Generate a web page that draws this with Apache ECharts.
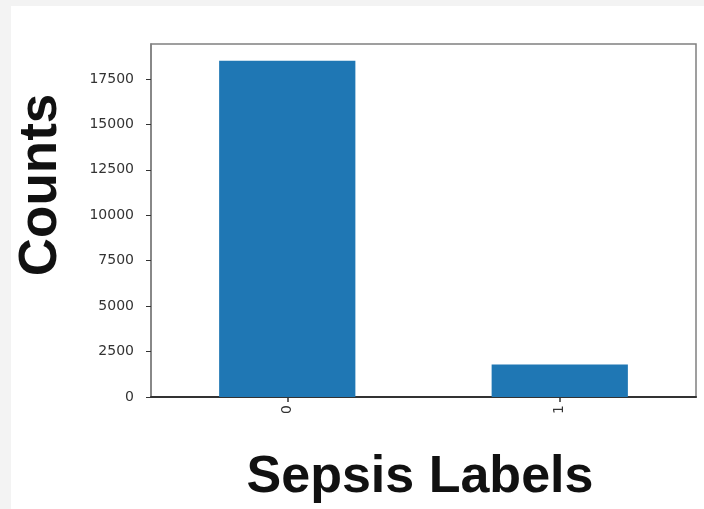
<!DOCTYPE html>
<html>
<head>
<meta charset="utf-8">
<script src="https://cdn.jsdelivr.net/npm/echarts@6/dist/echarts.min.js"></script>
<style>
html,body{margin:0;padding:0;background:#f3f3f3;}
#c{width:704px;height:509px;}
</style>
</head>
<body>
<div id="c"></div>
<script>
const categories = ['0', '1'];
const counts = [18500, 1790];
const yTicks = [0, 2500, 5000, 7500, 10000, 12500, 15000, 17500];
const xTitle = 'Sepsis Labels';
const yTitle = 'Counts';
const yMax = 19425;

const chart = echarts.init(document.getElementById('c'), null, {renderer: 'canvas'});
chart.setOption({
  backgroundColor: '#f3f3f3',
  animation: false,
  graphic: [
    {type: 'rect', left: 11, top: 6, z: -10, shape: {width: 693, height: 503}, style: {fill: '#ffffff'}},
    {type: 'text', x: 41, y: 185, rotation: Math.PI / 2, z: 10,
      style: {text: yTitle, font: 'bold 53px "Liberation Sans", Arial, sans-serif', fill: '#111', textAlign: 'center', textVerticalAlign: 'middle'}},
    {type: 'text', x: 420, y: 478, z: 10,
      style: {text: xTitle, font: 'bold 52px "Liberation Sans", Arial, sans-serif', fill: '#111', textAlign: 'center', textVerticalAlign: 'middle'}}
  ],
  grid: {left: 151, right: 8, top: 44, bottom: 112, show: true, borderColor: '#808080', borderWidth: 1.5, backgroundColor: 'transparent'},
  xAxis: {
    type: 'category',
    data: categories,
    axisLine: {show: true, lineStyle: {color: '#333', width: 2}},
    axisTick: {show: true, alignWithLabel: true, length: 5, lineStyle: {color: '#333', width: 1.5}},
    axisLabel: {rotate: 90, fontSize: 14, color: '#333', margin: 8, fontFamily: 'DejaVu Sans'},
    splitLine: {show: false}
  },
  yAxis: {
    type: 'value',
    min: 0,
    max: yMax,
    interval: 2500,
    axisLine: {show: true, lineStyle: {color: '#808080', width: 1.5}},
    axisTick: {show: true, length: 5, lineStyle: {color: '#333', width: 1}, customValues: yTicks},
    axisLabel: {fontSize: 14, color: '#333', margin: 17, fontFamily: 'DejaVu Sans', customValues: yTicks,
      formatter: function (v) { return String(v); }},
    splitLine: {show: false}
  },
  series: [{
    type: 'bar',
    data: counts,
    barWidth: '50%',
    itemStyle: {color: '#1f77b4'}
  }]
});
</script>
</body>
</html>
